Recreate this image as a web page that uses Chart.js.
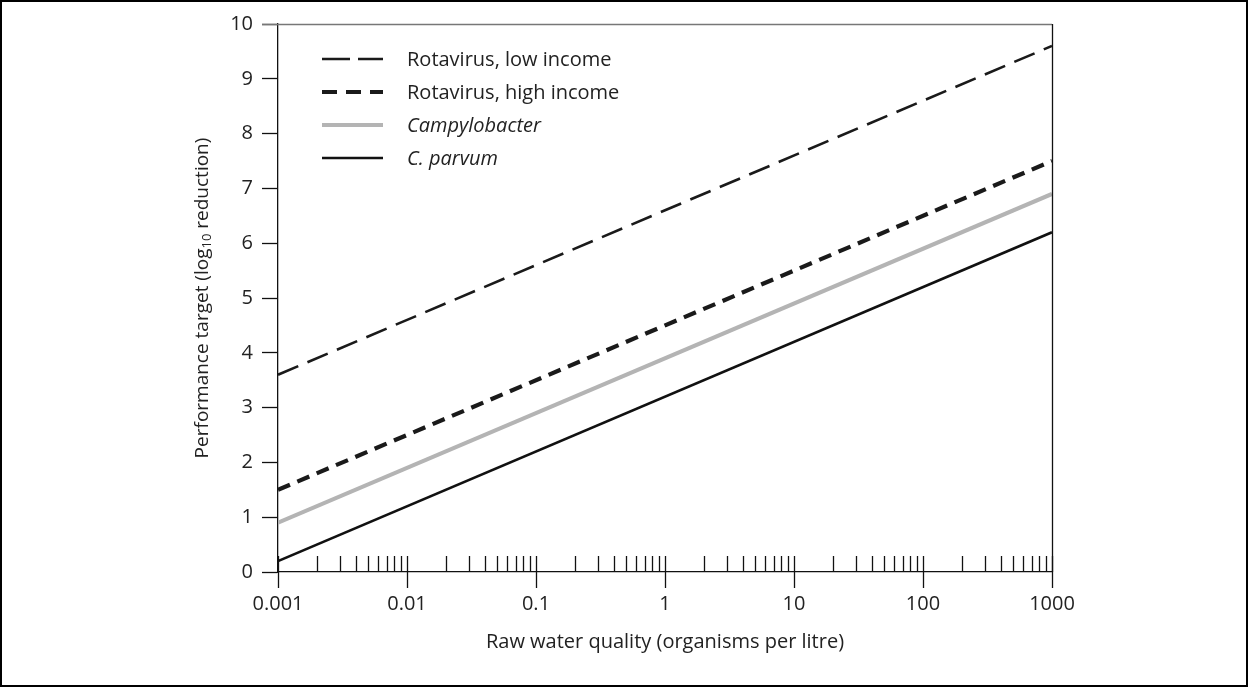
<!DOCTYPE html>
<html>
<head>
<meta charset="utf-8">
<script src="https://cdn.jsdelivr.net/npm/chart.js@4.4.1/dist/chart.umd.min.js"></script>
<style>
  html, body { margin: 0; padding: 0; background: #fff; }
  #wrap { position: relative; width: 1248px; height: 687px; }
  #frame { position: absolute; left: 0; top: 0; width: 1248px; height: 687px; box-sizing: border-box;
           border: 2px solid #000; pointer-events: none; }
</style>
</head>
<body>
<div id="wrap">
  <canvas id="c" width="1248" height="687"></canvas>
  <div id="frame"></div>
</div>
<script>
/* ── data ── */
const rawQuality   = [0.001, 1000];          // organisms per litre
const rotaLow      = [3.6, 9.6];
const rotaHigh     = [1.5, 7.5];
const campylo      = [0.9, 6.9];
const cParvum      = [0.2, 6.2];
const seriesNames  = ['Rotavirus, low income', 'Rotavirus, high income', 'Campylobacter', 'C. parvum'];
const yTicks       = [0, 1, 2, 3, 4, 5, 6, 7, 8, 9, 10];
const xMajor       = [0.001, 0.01, 0.1, 1, 10, 100, 1000];
const xMinorSteps  = [2, 3, 4, 5, 6, 7, 8, 9];

const FONT = '"Open Sans", sans-serif';
const pts = arr => rawQuality.map((x, i) => ({ x, y: arr[i] }));
const isMajor = v => xMajor.some(m => Math.abs(m - v) < m * 1e-6);

/* ── plugin: x ticks, frame, legend, y title ── */
const decor = {
  id: 'decor',
  afterDraw(chart) {
    const { ctx, chartArea: a, scales: { x } } = chart;
    ctx.save();
    // minor ticks point up inside the plot; majors cross the axis
    ctx.strokeStyle = '#111';
    ctx.lineWidth = 1.3;
    x.ticks.forEach(t => {
      const px = Math.round(x.getPixelForValue(t.value)) + 0.5;
      const major = isMajor(t.value);
      ctx.beginPath();
      ctx.moveTo(px, major ? a.bottom + 16 : a.bottom);
      ctx.lineTo(px, a.bottom - 16);
      ctx.stroke();
    });
    // top and right frame
    ctx.strokeStyle = '#777';
    ctx.beginPath(); ctx.moveTo(a.left - 16, a.top + 0.5); ctx.lineTo(a.right, a.top + 0.5); ctx.stroke();
    ctx.strokeStyle = '#111';
    ctx.beginPath(); ctx.moveTo(a.right + 0.5, a.top); ctx.lineTo(a.right + 0.5, a.bottom); ctx.stroke();

    // legend
    chart.data.datasets.forEach((ds, i) => {
      const ly = 59 + i * 33;
      ctx.strokeStyle = ds.borderColor;
      ctx.lineWidth = ds.borderWidth;
      ctx.setLineDash(ds.legendDash || []);
      ctx.beginPath(); ctx.moveTo(322, ly); ctx.lineTo(383, ly); ctx.stroke();
      ctx.setLineDash([]);
      ctx.fillStyle = '#222';
      ctx.textBaseline = 'middle';
      ctx.textAlign = 'left';
      ctx.font = (ds.italic ? 'italic ' : '') + '20px ' + FONT;
      ctx.fillText(ds.label, 407, ly + 1);
    });

    // y title with subscript
    ctx.translate(203, (a.top + a.bottom) / 2);
    ctx.rotate(-Math.PI / 2);
    ctx.fillStyle = '#222';
    ctx.textBaseline = 'middle';
    const parts = [['Performance target (log', 19, 0], ['10', 13, 4], [' reduction)', 19, 0]];
    let w = 0;
    parts.forEach(p => { ctx.font = p[1] + 'px ' + FONT; w += ctx.measureText(p[0]).width; });
    let cx = -w / 2;
    ctx.textAlign = 'left';
    parts.forEach(p => {
      ctx.font = p[1] + 'px ' + FONT;
      ctx.fillText(p[0], cx, p[2]);
      cx += ctx.measureText(p[0]).width;
    });
    ctx.restore();
  }
};

new Chart(document.getElementById('c'), {
  type: 'line',
  data: {
    datasets: [
      { label: seriesNames[0], data: pts(rotaLow), borderColor: '#1a1a1a', borderWidth: 2.6,
        borderDash: [22, 10], legendDash: [28, 8] },
      { label: seriesNames[1], data: pts(rotaHigh), borderColor: '#1a1a1a', borderWidth: 4.2,
        borderDash: [13, 8], legendDash: [15, 9] },
      { label: seriesNames[2], data: pts(campylo), borderColor: '#b4b4b4', borderWidth: 4.2, italic: true },
      { label: seriesNames[3], data: pts(cParvum), borderColor: '#111', borderWidth: 2.6, italic: true }
    ]
  },
  options: {
    responsive: false,
    animation: false,
    events: [],
    layout: { padding: { left: 0, top: 24, right: 196, bottom: 0 } },
    elements: { point: { radius: 0 }, line: { tension: 0, borderCapStyle: 'butt' } },
    plugins: { legend: { display: false }, tooltip: { enabled: false } },
    scales: {
      x: {
        type: 'logarithmic', min: 0.001, max: 1000,
        afterFit: s => { s.height = 115; },
        afterBuildTicks: s => {
          const ticks = [];
          xMajor.forEach((m, i) => {
            ticks.push({ value: m });
            if (i < xMajor.length - 1) xMinorSteps.forEach(k => ticks.push({ value: m * k }));
          });
          s.ticks = ticks;
        },
        grid: { display: false, drawTicks: false },
        border: { display: true, color: '#111', width: 1.3 },
        ticks: {
          padding: 20, color: '#222', font: { family: FONT, size: 20 }, autoSkip: false, maxRotation: 0,
          callback: v => isMajor(v) ? String(v) : ''
        },
        title: { display: true, text: 'Raw water quality (organisms per litre)', color: '#222',
                 font: { family: FONT, size: 20 }, padding: { bottom: 33 } }
      },
      y: {
        min: 0, max: 10,
        afterFit: s => { s.width = 278; },
        afterBuildTicks: s => { s.ticks = yTicks.map(v => ({ value: v })); },
        grid: { drawOnChartArea: false, drawTicks: true, tickLength: 16, tickColor: '#111', tickWidth: 1.3 },
        border: { display: true, color: '#111', width: 1.3 },
        ticks: { padding: 9, color: '#222', font: { family: FONT, size: 20 } }
      }
    }
  },
  plugins: [decor]
});
</script>
</body>
</html>
